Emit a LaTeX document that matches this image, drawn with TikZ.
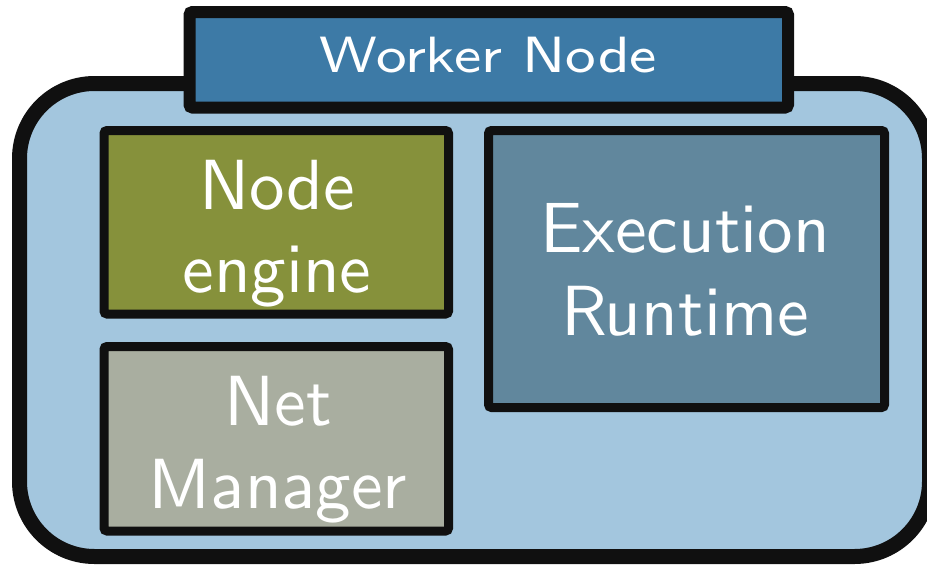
\documentclass[tikz,border=0pt]{standalone}
\usepackage{fontspec}
\usepackage{graphicx}
\newfontfamily\titlefont{lmsans8-regular.otf}
\newfontfamily\boxfont{lmsans10-regular.otf}
\definecolor{outerfill}{HTML}{A3C6DE}
\definecolor{titlefill}{HTML}{3D7AA6}
\definecolor{enginefill}{HTML}{86913B}
\definecolor{netfill}{HTML}{A9AEA0}
\definecolor{execfill}{HTML}{61879D}
\definecolor{edge}{HTML}{101010}
\begin{document}
\begin{tikzpicture}[x=1pt,y=-1pt,
  box/.style={draw=edge, line width=9pt, rounded corners=3pt, inner sep=0pt, outer sep=0pt},
  lbl/.style={text=white, align=center, font=\boxfont\fontsize{71}{83}\selectfont, inner sep=0pt}
]
\useasboundingbox (0,0) rectangle (927,565);
% outer container
\draw[draw=edge, fill=outerfill, line width=15pt, rounded corners=75pt]
  (19.5,83.5) rectangle (929.5,556.5);
% title
\node[box, line width=12pt, fill=titlefill, minimum width=598.5pt, minimum height=95.5pt]
  (title) at (488.75,59.75) {};
\node[text=white, inner sep=0pt, anchor=base, font=\titlefont\fontsize{51}{61}\selectfont]
  (titletext) at (488.5,72.5) {\scalebox{1.13}[1]{Worker Node}};
% boxes
\node[box, fill=enginefill, minimum width=344.5pt, minimum height=183.5pt]
  (engine) at (276.25,222.25) {};
\node[box, fill=netfill, minimum width=344.5pt, minimum height=184.5pt]
  (net) at (276.25,438.75) {};
\node[box, fill=execfill, minimum width=396pt, minimum height=277pt]
  (exec) at (686.5,269) {};
% labels
\node[lbl] (enginetext) at (277,234) {Node\\engine};
\node[lbl] (nettext) at (278,450) {Net\\Manager};
\node[lbl] (exectext) at (685,270) {Execution\\Runtime};
\end{tikzpicture}
\end{document}
